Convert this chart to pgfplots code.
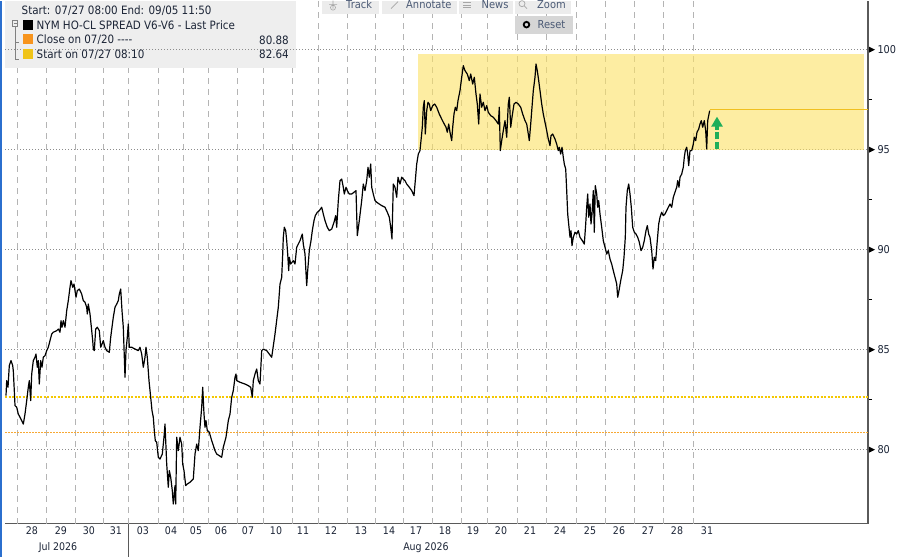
\documentclass[border=0pt]{standalone}
\usepackage{fontspec}
\setmainfont[FakeStretch=0.9]{DejaVu Sans}
\usepackage{pgfplots}
\pgfplotsset{compat=1.18}
\usetikzlibrary{arrows.meta}
\definecolor{axiscol}{HTML}{5A5A5A}
\definecolor{gridcol}{HTML}{8C8C8C}
\definecolor{vgridcol}{HTML}{B4B4B4}
\definecolor{tickcol}{HTML}{1B2436}
\definecolor{legbg}{HTML}{EEEEEE}
\definecolor{boxyellow}{RGB}{252,226,100}
\definecolor{lineyellow}{HTML}{F0C020}
\definecolor{dotyellow}{HTML}{F5C800}
\definecolor{dotorange}{HTML}{F7A833}
\definecolor{sqorange}{HTML}{F7941D}
\definecolor{sqyellow}{HTML}{F0C419}
\definecolor{arrowgreen}{HTML}{1FAE5A}
\definecolor{frameblue}{HTML}{2B6FCE}
\definecolor{btnbg}{HTML}{ECECEC}
\definecolor{btntext}{HTML}{4B5A75}
\definecolor{resetbg}{HTML}{D6D6D6}
\begin{document}
\begin{tikzpicture}[x=1pt,y=1pt]
\fill[white] (0,0) rectangle (900,556);
\begin{axis}[
  at={(5pt,33pt)}, anchor=south west, scale only axis,
  width=863pt, height=523pt,
  xmin=5, xmax=868, ymin=76.3, ymax=102.45,
  clip=false,
  axis x line*=bottom, axis y line*=right,
  axis line style={draw=axiscol, line width=1.3pt},
  xtick={32,61,89,116,143,171,196,221,248,276,303,331,361,389,416,445,473,501,530,560,590,619,648,677,707},
  xticklabels={28,29,30,31,03,04,05,06,07,10,11,12,13,14,17,18,19,20,21,24,25,26,27,28,31},
  x tick style={draw=none},
  ytick={80,85,90,95,100}, minor y tick num=1,
  major tick length=0pt, minor tick length=4pt, tick align=outside,
  y tick style={draw=black, line width=0.8pt},
  ymajorgrids,
  major grid style={draw=gridcol, line width=0.8pt, dash pattern=on 1pt off 2pt},
  extra x ticks={17,46,75,103,128,158,183,208,237,263,292,318,347,375,403,432,461,487,517,546,576,605,634,663,693},
  extra x tick labels={},
  extra x tick style={xmajorgrids=true, major grid style={draw=vgridcol, line width=1pt, dash pattern=on 6pt off 5pt}},
  /pgf/number format/assume math mode=true,
  xticklabel style={font=\fontsize{10.5}{13}\selectfont, text=tickcol},
  yticklabel style={font=\fontsize{10.8}{13}\selectfont, text=tickcol, xshift=6pt},
]
\fill[boxyellow, opacity=0.6] (axis cs:418,95) rectangle (axis cs:864,99.8);
\addplot[dotorange, line width=1pt, dash pattern=on 1.5pt off 1.5pt] coordinates {(5,80.88)(868,80.88)};
\addplot[dotyellow, line width=1.7pt, dash pattern=on 2pt off 1.5pt] coordinates {(5,82.64)(868,82.64)};
\addplot[black, line width=1.2pt, line join=round] coordinates {
(6.0,82.70)(6.7,83.45)(8.0,83.12)(9.3,84.20)(11.0,84.45)(12.7,84.20)(13.3,83.95)(14.3,82.95)(15.0,82.20)(16.7,82.12)(18.3,81.78)(20.0,81.62)(21.7,81.45)(23.3,81.28)(25.0,81.78)(26.7,82.45)(28.3,83.12)(29.3,83.45)(30.7,82.45)(31.7,83.78)(33.3,84.45)(35.0,84.62)(36.0,84.78)(37.3,84.12)(38.3,84.45)(39.3,83.28)(40.7,84.45)(42.0,84.12)(43.3,84.62)(45.0,84.70)(46.7,84.95)(48.3,85.12)(50.0,85.45)(51.7,85.78)(53.3,85.87)(56.7,85.95)(58.3,86.03)(60.0,85.87)(61.0,86.45)(62.0,86.12)(63.3,86.45)(65.0,86.12)(66.7,86.95)(68.3,87.45)(70.0,88.12)(71.0,88.45)(72.7,88.12)(74.0,88.28)(76.0,87.62)(77.3,87.95)(79.3,88.03)(81.7,87.78)(83.3,87.45)(85.0,87.37)(86.7,87.12)(87.3,86.78)(88.3,87.28)(90.0,86.78)(91.7,85.95)(92.7,85.45)(93.3,85.03)(94.3,84.95)(95.7,86.03)(97.3,86.12)(99.3,85.95)(100.7,85.12)(102.0,85.28)(103.3,85.45)(105.0,85.12)(106.7,84.95)(109.3,84.87)(110.7,85.62)(112.0,86.12)(113.3,86.62)(115.0,87.12)(116.7,87.28)(118.3,87.45)(119.3,87.78)(120.7,88.03)(122.0,86.95)(123.3,86.12)(125.0,83.62)(126.0,84.95)(127.3,85.62)(128.3,86.28)(129.3,85.12)(131.7,85.12)(135.0,85.03)(138.3,84.95)(140.0,85.12)(141.7,84.78)(143.3,84.12)(145.0,84.62)(146.0,85.12)(147.3,84.62)(149.0,83.45)(150.7,82.62)(152.0,81.95)(153.3,81.62)(154.3,80.95)(155.3,80.45)(156.7,80.37)(158.3,79.62)(160.0,79.53)(162.3,79.78)(164.0,80.62)(165.0,81.28)(166.7,79.28)(168.3,78.12)(169.3,78.95)(170.7,78.62)(172.3,77.95)(173.3,77.28)(175.0,78.20)(175.7,77.28)(176.7,80.62)(178.3,79.95)(180.0,80.62)(181.7,80.28)(182.7,79.28)(184.0,78.95)(185.7,78.20)(187.3,78.28)(190.0,78.37)(193.3,78.53)(195.0,79.78)(196.7,80.28)(198.3,79.95)(200.0,81.12)(201.7,82.12)(202.7,83.12)(204.0,81.78)(205.0,81.12)(206.0,81.45)(207.3,80.95)(209.3,80.87)(211.7,80.45)(215.0,79.95)(216.7,79.78)(219.3,79.70)(221.7,79.62)(223.3,80.12)(226.0,80.62)(228.3,81.45)(230.0,81.78)(231.7,82.62)(233.3,82.95)(235.0,83.62)(236.0,83.78)(236.7,83.45)(240.0,83.37)(245.0,83.28)(248.3,83.20)(250.7,83.12)(252.3,82.62)(253.3,83.45)(255.0,83.78)(256.7,84.03)(258.3,83.45)(260.0,83.28)(261.7,84.95)(263.3,85.03)(266.7,84.95)(271.7,84.62)(275.0,85.78)(278.3,87.12)(280.0,88.28)(281.7,88.62)
(282.7,89.78)(283.3,90.62)(284.3,91.12)(285.7,90.95)(286.7,90.45)(287.7,89.78)(288.7,88.95)(289.3,89.62)(290.7,89.28)(293.3,89.45)(295.0,89.28)(296.7,90.12)(298.3,90.28)(300.0,90.45)(302.3,90.78)(303.3,90.28)(305.0,89.78)(306.7,88.20)(307.7,88.95)(309.3,89.95)(311.0,90.45)(312.3,90.95)(314.0,91.45)(315.3,91.70)(317.3,91.87)(319.3,91.95)(321.7,92.12)(323.3,91.78)(325.0,91.45)(327.3,91.12)(329.3,90.95)(331.7,91.03)(334.0,91.37)(335.7,91.70)(336.7,91.12)(338.3,92.45)(340.0,93.45)(341.7,93.53)(343.3,93.12)(344.3,92.78)(346.0,93.12)(347.3,92.95)(349.3,92.78)(351.7,92.78)(354.0,92.87)(356.0,92.95)(357.3,90.70)(359.3,91.45)(361.7,92.45)(363.3,93.28)(365.0,92.95)(366.7,93.45)(368.0,94.12)(369.3,93.62)(370.7,94.28)(371.7,93.12)(373.3,92.78)(375.0,92.45)(376.7,92.37)(379.3,92.28)(381.7,92.20)(385.0,92.12)(387.3,91.87)(389.3,91.62)(390.7,91.12)(392.0,90.53)(393.3,93.28)(395.0,93.12)(396.7,92.62)(398.0,93.62)(400.0,93.28)(401.7,93.62)(403.3,93.53)(405.0,93.45)(406.7,93.28)(409.3,93.12)(411.7,92.95)(414.0,92.70)(415.3,93.45)(416.7,94.28)(418.3,94.78)(420.0,94.95)(421.0,95.45)(422.3,96.12)(423.3,97.12)(424.3,97.45)(425.3,95.78)(426.7,96.95)(428.0,97.37)(429.3,97.28)(430.7,96.95)(432.7,97.20)(434.7,97.28)(436.7,97.12)(439.3,96.78)(441.7,96.53)(443.3,96.37)(446.0,96.12)(447.3,95.87)(448.7,96.28)(450.0,95.87)(451.7,95.45)(452.7,96.12)(454.0,96.78)(455.3,97.12)(456.7,96.95)(458.0,97.45)(460.0,97.95)(461.7,98.62)(463.3,99.20)(465.0,98.95)(467.3,98.78)(469.3,98.45)(470.7,98.78)(472.7,98.28)(474.3,98.62)(476.0,97.78)(477.3,97.28)(478.7,96.28)(480.0,97.78)(481.7,97.12)(483.3,97.37)(485.0,96.95)(486.7,97.20)(488.3,96.87)(490.7,96.70)(493.3,96.62)(496.0,96.45)(498.3,96.28)(499.3,97.12)(500.3,94.95)(501.7,95.45)(503.3,95.95)(505.0,96.45)(506.7,95.62)(508.3,97.28)(509.3,97.62)(510.7,96.12)(512.0,96.62)(514.0,97.28)(516.0,97.37)(518.3,97.28)(520.7,97.12)(522.7,96.78)(525.0,96.45)(526.7,96.28)(528.3,95.78)(529.3,95.45)(530.7,96.28)(532.0,97.12)(533.3,97.95)(535.0,98.62)(536.0,99.28)(537.3,98.95)(538.7,98.45)(540.0,97.95)
(541.7,97.28)(543.3,96.78)(545.0,96.37)(546.7,95.95)(548.3,95.53)(550.0,95.20)(551.0,95.70)(552.7,95.78)(555.0,95.53)(556.7,95.28)(558.3,94.95)(559.3,95.12)(560.7,94.78)(562.0,95.12)(563.3,94.62)(564.3,94.28)(565.7,94.03)(566.7,92.95)(567.7,91.78)(569.0,91.12)(570.0,90.62)(571.0,90.95)(572.0,90.20)(573.3,90.62)(575.0,90.87)(576.7,90.78)(578.3,90.95)(580.0,90.62)(582.3,90.45)(584.3,90.28)(585.7,91.28)(586.7,92.12)(587.7,92.78)(588.7,91.62)(590.0,92.28)(591.0,91.28)(592.0,91.78)(593.3,92.95)(594.3,90.87)(595.3,93.20)(596.7,92.78)(597.7,92.12)(598.7,92.45)(600.0,91.78)(601.7,91.12)(603.3,90.45)(605.0,90.12)(606.7,89.78)(608.3,89.95)(610.0,89.53)(611.7,89.28)(613.3,88.95)(615.0,88.62)(616.7,88.28)(617.7,87.62)(619.0,87.95)(620.7,88.45)(622.7,88.95)(624.0,89.62)(625.3,90.62)(626.0,92.12)(627.3,92.95)(628.7,93.28)(630.0,92.78)(631.3,92.12)(632.7,91.12)(634.3,90.87)(636.0,90.78)(637.7,90.62)(639.3,90.37)(641.0,89.95)(642.7,90.12)(644.3,90.45)(646.0,90.95)(647.3,91.20)(648.7,90.78)(650.0,90.62)(651.7,89.95)(653.0,89.03)(654.3,89.62)(655.7,89.45)(657.0,90.28)(658.7,91.28)(660.0,91.62)(661.7,91.87)(663.3,91.70)(665.0,91.78)(666.7,91.95)(668.3,92.12)(670.0,92.28)(671.7,92.12)(673.3,92.62)(675.0,92.87)(676.7,93.12)(677.7,93.45)(679.0,93.12)(680.0,93.62)(681.7,93.78)(683.3,94.12)(684.3,94.62)(685.3,94.95)(686.7,95.12)(687.7,94.78)(688.7,94.20)(690.0,94.95)(691.7,94.95)(693.3,95.28)(694.3,95.62)(695.7,95.45)(697.0,95.87)(698.7,96.03)(700.0,96.28)(701.3,96.45)(702.7,96.12)(704.3,96.45)(705.7,95.95)(706.7,95.03)(707.7,96.45)(709.0,96.78)(709.7,96.95)
};
\addplot[lineyellow, line width=1pt] coordinates {(709.7,97.0)(868,97.0)};
\draw[arrowgreen, line width=3.5pt, dash pattern=on 7pt off 2.5pt, -{Triangle[width=11pt,length=10pt]}] (axis cs:717,95.05) -- (axis cs:717,96.65);
\pgfplotsinvokeforeach{80,85,90,95,100}{\fill[black] (axis cs:868,#1) ++(1pt,3pt) -- ++(6pt,-3pt) -- ++(-6pt,-3pt) -- cycle;}
\end{axis}
% legend box
\fill[legbg] (5,489) rectangle (296,556);
\draw[gridcol, line width=0.8pt, dash pattern=on 1pt off 2pt] (5,507) -- (296,507);
\node[anchor=west, inner sep=0pt, text=tickcol, font=\fontsize{11.5}{13}\selectfont] at (21.5,546) {Start: 07/27 08:00 End: 09/05 11:50};
\draw[gray, line width=0.6pt] (12.3,530) rectangle (17.7,536);
\draw[gray, line width=0.6pt] (13.5,533) -- (16.5,533);
\draw[gray, line width=0.6pt] (15,530) -- (15,497) -- (19,497);
\draw[gray, line width=0.6pt] (15,514) -- (19,514);
\fill[black] (22.7,526.7) rectangle (32.7,536.7);
\fill[sqorange] (22.7,512.5) rectangle (32.7,522.5);
\fill[sqyellow] (22.7,497.5) rectangle (32.7,507.5);
\node[anchor=west, inner sep=0pt, text=tickcol, font=\fontsize{11.5}{13}\selectfont] at (36.5,531) {NYM HO-CL SPREAD V6-V6 - Last Price};
\node[anchor=west, inner sep=0pt, text=tickcol, font=\fontsize{11.5}{13}\selectfont] at (36.5,516.7) {Close on 07/20 -{}-{}-{}-};
\node[anchor=west, inner sep=0pt, text=tickcol, font=\fontsize{11.5}{13}\selectfont] at (36.5,502) {Start on 07/27 08:10};
\node[anchor=east, inner sep=0pt, text=tickcol, font=\fontsize{11.5}{13}\selectfont] at (289,516.7) {80.88};
\node[anchor=east, inner sep=0pt, text=tickcol, font=\fontsize{11.5}{13}\selectfont] at (289,502) {82.64};
% toolbar
\fill[btnbg] (322,543) rectangle (379,556);
\fill[btnbg] (382,543) rectangle (457,556);
\fill[btnbg] (459,543) rectangle (513,556);
\fill[btnbg] (515,543) rectangle (571,556);
\fill[resetbg] (515,523) rectangle (573,541);
\draw[gray!70, line width=0.6pt] (333,549) circle (2.5) (329,552)--(337,552) (333,556)--(333,548);
\draw[gray!70, line width=0.7pt] (391,548) -- (398,555);
\draw[gray!70, line width=0.7pt] (463,554)--(471,554) (463,551.5)--(471,551.5) (463,549)--(471,549);
\draw[gray!70, line width=0.7pt] (522,553) circle (3) (524.2,550.8) -- (527,548);
\node[anchor=west, inner sep=0pt, text=btntext, font=\fontsize{11}{13}\selectfont] at (346,552) {Track};
\node[anchor=west, inner sep=0pt, text=btntext, font=\fontsize{11}{13}\selectfont] at (406,552) {Annotate};
\node[anchor=west, inner sep=0pt, text=btntext, font=\fontsize{11}{13}\selectfont] at (481.5,552) {News};
\node[anchor=west, inner sep=0pt, text=btntext, font=\fontsize{11}{13}\selectfont] at (537,552) {Zoom};
\draw[black, line width=1.8pt] (526.5,532) circle (2.8);
\node[anchor=west, inner sep=0pt, text=btntext, font=\fontsize{11}{13}\selectfont] at (537.5,532) {Reset};
% month labels
\draw[axiscol, line width=1pt] (128,33) -- (128,0);
\node[text=tickcol, font=\fontsize{10.5}{13}\selectfont, inner sep=0pt] at (58,9) {Jul 2026};
\node[text=tickcol, font=\fontsize{10.5}{13}\selectfont, inner sep=0pt] at (426,9) {Aug 2026};
% frame
\fill[frameblue] (0,0) rectangle (2,556);
\end{tikzpicture}
\end{document}
